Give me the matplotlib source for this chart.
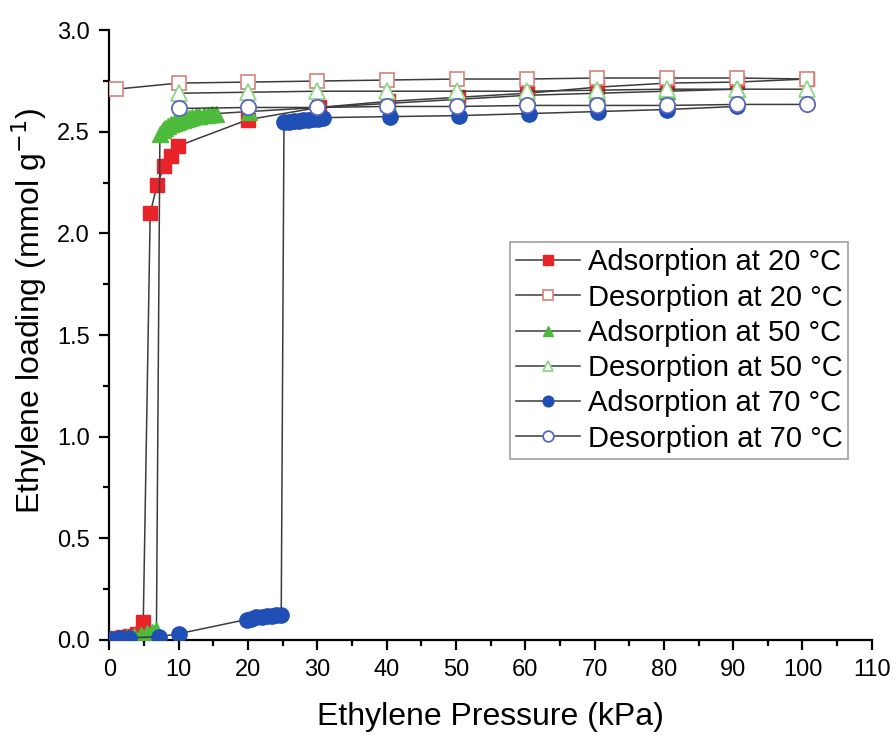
import matplotlib.pyplot as plt
from matplotlib.ticker import MultipleLocator

plt.rcParams['font.family'] = ['Liberation Sans', 'DejaVu Sans']

# adsorption at 20 C
ads20_p = [0.3, 1.0, 2.0, 3.0, 4.0, 4.9, 5.9, 6.9, 7.9, 8.9, 9.9, 20.0, 30.2, 40.2, 50.3, 60.3, 70.4, 80.5, 90.6, 100.6]
ads20_q = [0.005, 0.01, 0.015, 0.02, 0.03, 0.09, 2.10, 2.24, 2.33, 2.38, 2.43, 2.56, 2.62, 2.65, 2.67, 2.69, 2.72, 2.74, 2.745, 2.76]
# desorption at 20 C
des20_p = [100.7, 90.6, 80.5, 70.4, 60.3, 50.2, 40.0, 30.0, 20.0, 10.0, 1.0]
des20_q = [2.76, 2.765, 2.765, 2.765, 2.76, 2.76, 2.755, 2.75, 2.745, 2.74, 2.71]

# adsorption at 50 C
ads50_p = [0.5, 1.5, 2.5, 3.5, 4.5, 5.5, 6.2, 6.8, 7.3, 7.7, 8.1, 8.5, 8.9, 9.3, 9.7, 10.1, 10.6, 11.0,
           11.5, 12.0, 12.5, 13.0, 13.6, 14.2, 14.8, 15.4, 20.2, 30.2, 40.2, 50.3, 60.3, 70.4, 80.5, 90.6]
ads50_q = [0.005, 0.01, 0.015, 0.02, 0.025, 0.035, 0.04, 0.05, 2.49, 2.51, 2.52, 2.53, 2.54, 2.545, 2.55, 2.555, 2.56, 2.565,
           2.57, 2.575, 2.58, 2.58, 2.585, 2.585, 2.59, 2.59, 2.60, 2.62, 2.64, 2.66, 2.68, 2.69, 2.70, 2.71]
# desorption at 50 C
des50_p = [100.7, 90.6, 80.5, 70.4, 60.3, 50.2, 40.0, 30.0, 20.0, 10.0]
des50_q = [2.71, 2.71, 2.71, 2.705, 2.70, 2.70, 2.70, 2.70, 2.695, 2.69]

# adsorption at 70 C
ads70_p = [0.2, 1.5, 2.8, 7.1, 10.0, 19.8, 20.5, 21.2, 22.0, 22.7, 23.4, 24.1, 24.8,
           25.2, 25.9, 26.6, 27.3, 28.0, 28.7, 29.4, 30.1, 30.8, 40.5, 50.5, 60.5, 70.5, 80.5, 90.5]
ads70_q = [0.005, 0.008, 0.01, 0.015, 0.03, 0.10, 0.105, 0.11, 0.11, 0.115, 0.115, 0.12, 0.12,
           2.55, 2.55, 2.555, 2.555, 2.56, 2.56, 2.565, 2.565, 2.57, 2.575, 2.58, 2.59, 2.60, 2.61, 2.625]
# desorption at 70 C
des70_p = [100.7, 90.6, 80.5, 70.4, 60.3, 50.2, 40.0, 30.0, 20.0, 10.0]
des70_q = [2.635, 2.635, 2.63, 2.63, 2.63, 2.625, 2.625, 2.62, 2.62, 2.615]

fig = plt.figure(figsize=(8.96, 7.38), dpi=100)
ax = fig.add_axes([0.122, 0.133, 0.851, 0.826])

line_c = '#3c3c3c'
ax.plot(ads20_p, ads20_q, color=line_c, lw=1.1, marker='s', ms=10, mfc='#e8242a', mec='#e8242a', label='Adsorption at 20 °C', zorder=3)
ax.plot(des20_p, des20_q, color=line_c, lw=1.1, marker='s', ms=10, mfc='white', mec='#d98a84', mew=1.3, label='Desorption at 20 °C', zorder=3)
ax.plot(ads50_p, ads50_q, color=line_c, lw=1.1, marker='^', ms=11, mfc='#4cbb3c', mec='#4cbb3c', label='Adsorption at 50 °C', zorder=3)
ax.plot(des50_p, des50_q, color=line_c, lw=1.1, marker='^', ms=11, mfc='white', mec='#8fd68a', mew=1.3, label='Desorption at 50 °C', zorder=3)
ax.plot(ads70_p, ads70_q, color=line_c, lw=1.1, marker='o', ms=11, mfc='#1f4fb4', mec='#1f4fb4', label='Adsorption at 70 °C', zorder=3)
ax.plot(des70_p, des70_q, color=line_c, lw=1.1, marker='o', ms=11, mfc='white', mec='#5a66c0', mew=1.3, label='Desorption at 70 °C', zorder=3)

ax.set_xlim(0, 110)
ax.set_ylim(0, 3.0)
ax.xaxis.set_major_locator(MultipleLocator(10))
ax.xaxis.set_minor_locator(MultipleLocator(5))
ax.yaxis.set_major_locator(MultipleLocator(0.5))
ax.yaxis.set_minor_locator(MultipleLocator(0.25))
ax.yaxis.set_major_formatter(plt.FormatStrFormatter('%.1f'))

ax.spines['top'].set_visible(False)
ax.spines['right'].set_visible(False)
ax.spines['left'].set_linewidth(1.6)
ax.spines['bottom'].set_linewidth(1.6)
ax.tick_params(which='major', direction='out', length=7, width=1.6, labelsize=17, pad=7)
ax.tick_params(which='minor', direction='out', length=4, width=1.6)

ax.set_xlabel('Ethylene Pressure (kPa)', fontsize=23, labelpad=15)
ax.set_ylabel('Ethylene loading (mmol g$^{-1}$)', fontsize=23)
ax.yaxis.set_label_coords(-0.079, 0.54)

leg = ax.legend(loc='upper right', bbox_to_anchor=(0.969, 0.652), fontsize=21, frameon=True, fancybox=False,
                edgecolor='#888888', handlelength=2.2, handletextpad=0.25, borderpad=0.2, labelspacing=0.25,
                borderaxespad=0, markerscale=0.7)
leg.get_frame().set_linewidth(1.2)

plt.savefig('out.png', dpi=100)
